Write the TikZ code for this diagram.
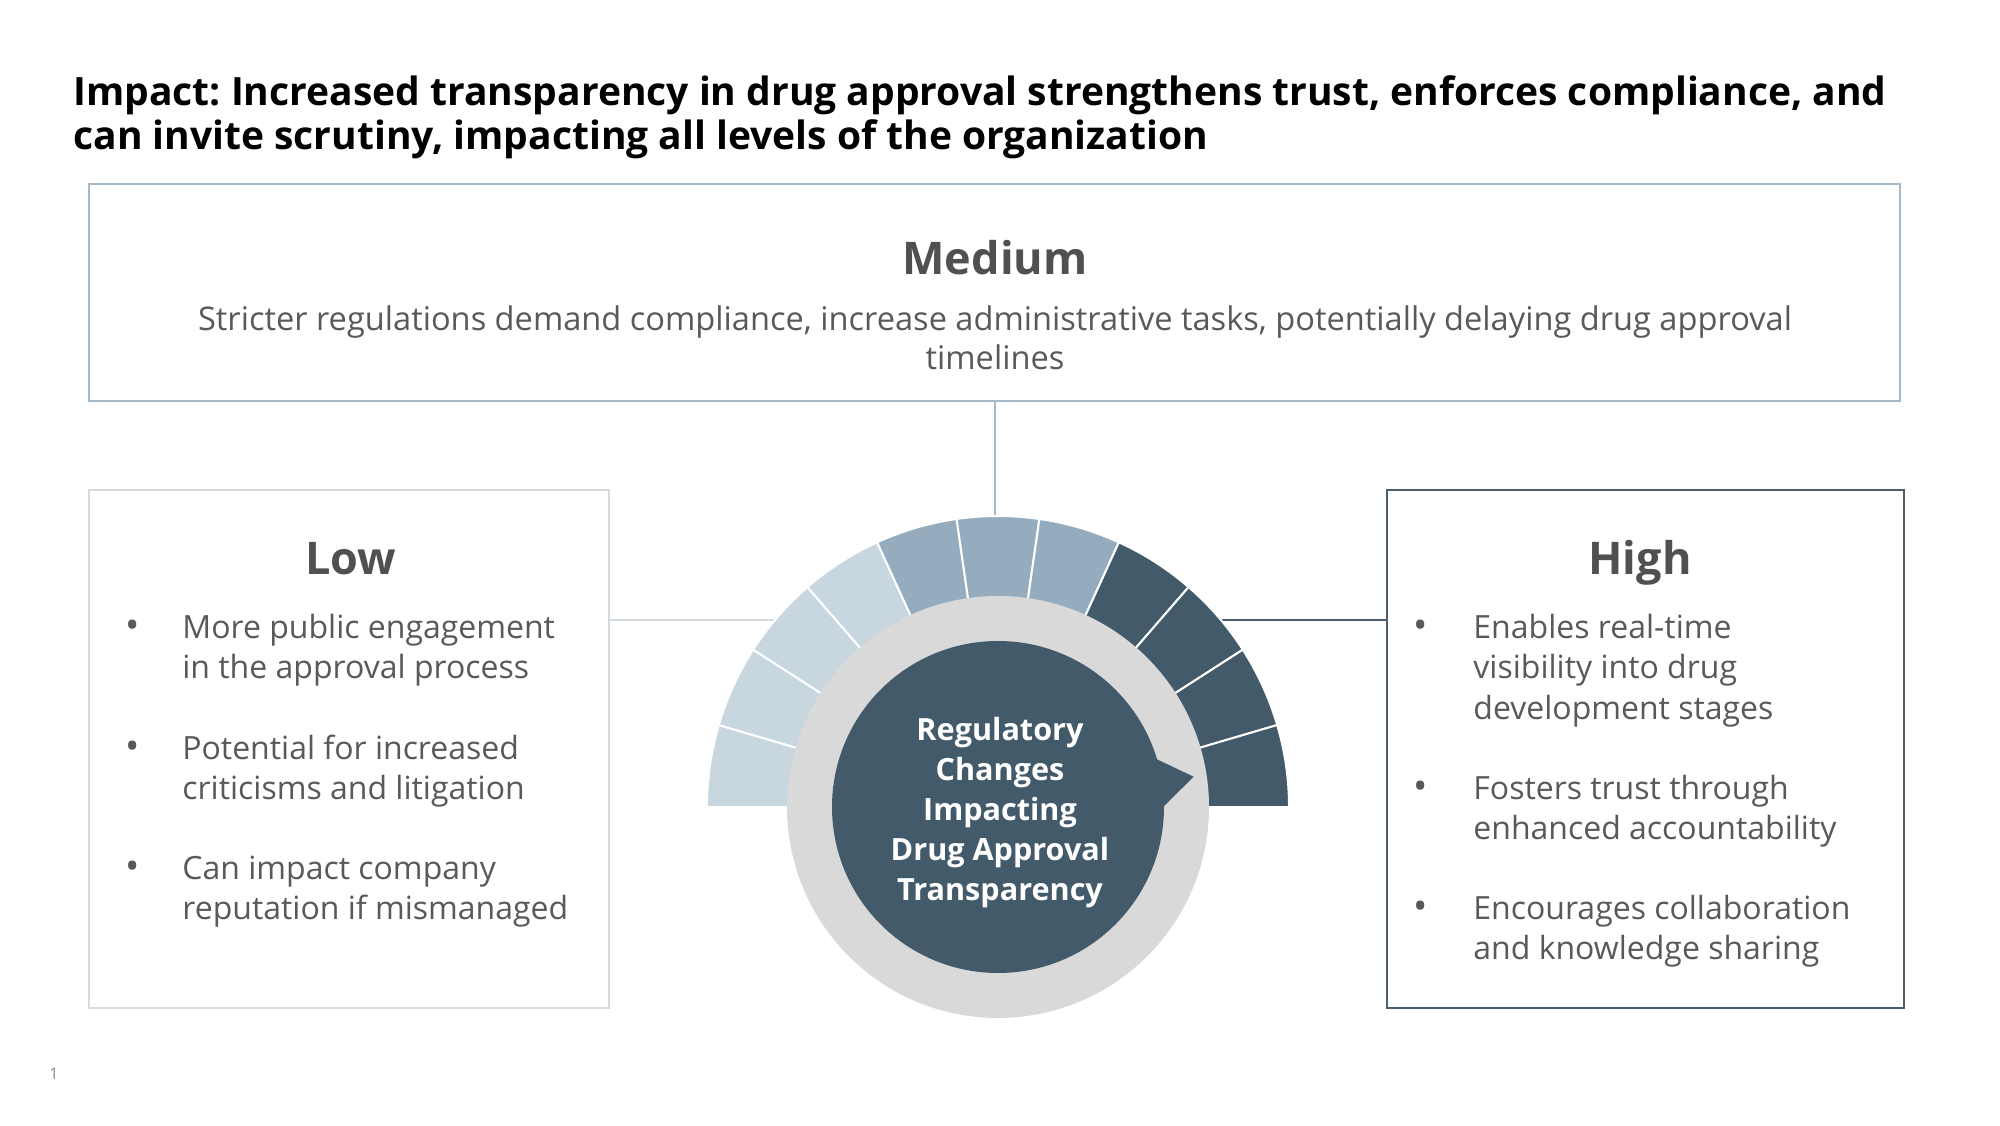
\documentclass[tikz,border=0pt]{standalone}
\usepackage{fontspec}
\setmainfont{Open Sans}
\usetikzlibrary{fit}
\frenchspacing
\definecolor{titlecol}{HTML}{000000}
\definecolor{headcol}{HTML}{505050}
\definecolor{bodycol}{HTML}{595959}
\definecolor{medborder}{HTML}{A7B8C6}
\definecolor{lowborder}{HTML}{D3DBE0}
\definecolor{highborder}{HTML}{4B5F6E}
\definecolor{segLight}{HTML}{C8D6E0}
\definecolor{segMid}{HTML}{94ACBE}
\definecolor{segDark}{HTML}{435A6B}
\definecolor{ringgray}{HTML}{D9D9D9}
\tikzset{
  boxshape/.style={draw, rectangle, inner sep=0pt, line width=1pt},
  titletext/.style={font=\bfseries\fontsize{19.5}{22}\selectfont, text=titlecol, anchor=base west, inner sep=0pt},
  headtext/.style={font=\bfseries\fontsize{22.5}{28}\selectfont, text=headcol, anchor=base, inner sep=0pt},
  bodytext/.style={font=\fontsize{16}{20}\selectfont, text=bodycol, anchor=base west, inner sep=0pt},
  desctext/.style={font=\fontsize{16.3}{20}\selectfont, text=bodycol, anchor=base, inner sep=0pt},
  bullettext/.style={font=\fontsize{19}{20}\selectfont, text=bodycol, anchor=base, inner sep=0pt},
  centertext/.style={font=\bfseries\fontsize{15.3}{20}\selectfont, text=white, anchor=base, inner sep=0pt},
  segsep/.style={draw=white, line width=1pt},
}
\begin{document}
\begin{tikzpicture}[x=0.5pt, y=0.5pt]
\useasboundingbox[fill=white] (0,0) rectangle (2000,1125);

% boxes
\node[boxshape, draw=medborder, fit={(89,724) (1900,941)}] (med) {};
\node[boxshape, draw=lowborder, fit={(89,117) (609,635)}] (low) {};
\node[boxshape, draw=highborder, fit={(1387,117) (1904,635)}] (high) {};

% geometry of the gauge
\coordinate (ctr) at (998,318);
\coordinate (arcT) at (998,609);
\coordinate (arcL) at (776,505);
\coordinate (arcR) at (1220,505);

% connectors
\draw[medborder, line width=1pt] (med.south) -- (med.south |- arcT);
\draw[lowborder, line width=1pt] (low.east |- arcL) -- (arcL);
\draw[highborder, line width=1pt] (high.west |- arcR) -- (arcR);

% segments
\begin{scope}[shift={(998,318)}]
  \foreach \i/\col in {0/segLight,1/segLight,2/segLight,3/segLight,4/segMid,5/segMid,6/segMid,7/segDark,8/segDark,9/segDark,10/segDark}{
    \pgfmathsetmacro{\aA}{180-\i*180/11}
    \pgfmathsetmacro{\aB}{180-(\i+1)*180/11}
    \filldraw[fill=\col, segsep] (\aA:200) -- (\aA:291) arc[start angle=\aA, end angle=\aB, radius=291] -- (\aB:200) -- cycle;
  }
  \fill[ringgray] (0,0) circle[radius=211];
  \fill[segDark] (0,0) circle[radius=166];
  \fill[segDark] (17:165) -- (8.8:198) -- (0:165) -- cycle;
\end{scope}

% title
\node[titletext] (t1) at (73,1019) {Impact: Increased transparency in drug approval strengthens trust, enforces compliance, and};
\node[titletext] (t2) at (73,975.5) {can invite scrutiny, impacting all levels of the organization};

% medium
\node[headtext] (medh) at (995,850) {Medium};
\node[desctext] (medd1) at (995,794) {Stricter regulations demand compliance, increase administrative tasks, potentially delaying drug approval};
\node[desctext] (medd2) at (995,755) {timelines};

% low
\node[headtext] (lowh) at (351,550) {Low};
\node[bullettext] (lb1) at (133,486) {•};
\node[bodytext] (l1a) at (182,486) {More public engagement};
\node[bodytext] (l1b) at (182,446) {in the approval process};
\node[bullettext] (lb2) at (133,366) {•};
\node[bodytext] (l2a) at (182,366) {Potential for increased};
\node[bodytext] (l2b) at (182,326) {criticisms and litigation};
\node[bullettext] (lb3) at (133,246) {•};
\node[bodytext] (l3a) at (182,246) {Can impact company};
\node[bodytext] (l3b) at (182,206) {reputation if mismanaged};

% high
\node[headtext] (highh) at (1640,550) {High};
\node[bullettext] (hb1) at (1421,486) {•};
\node[bodytext] (h1a) at (1473,486) {Enables real-time};
\node[bodytext] (h1b) at (1473,446) {visibility into drug};
\node[bodytext] (h1c) at (1473,406) {development stages};
\node[bullettext] (hb2) at (1421,326) {•};
\node[bodytext] (h2a) at (1473,326) {Fosters trust through};
\node[bodytext] (h2b) at (1473,286) {enhanced accountability};
\node[bullettext] (hb3) at (1421,206) {•};
\node[bodytext] (h3a) at (1473,206) {Encourages collaboration};
\node[bodytext] (h3b) at (1473,166) {and knowledge sharing};

% center text
\node[centertext] (c1) at (1000,385) {Regulatory};
\node[centertext] (c2) at (1000,345) {Changes};
\node[centertext] (c3) at (1000,305) {Impacting};
\node[centertext] (c4) at (1000,265) {Drug Approval};
\node[centertext] (c5) at (1000,225) {Transparency};

% page number
\node[font=\fontsize{8}{9}\selectfont, text=bodycol!70, inner sep=0pt] (pg) at (54,51) {1};
\end{tikzpicture}
\end{document}
